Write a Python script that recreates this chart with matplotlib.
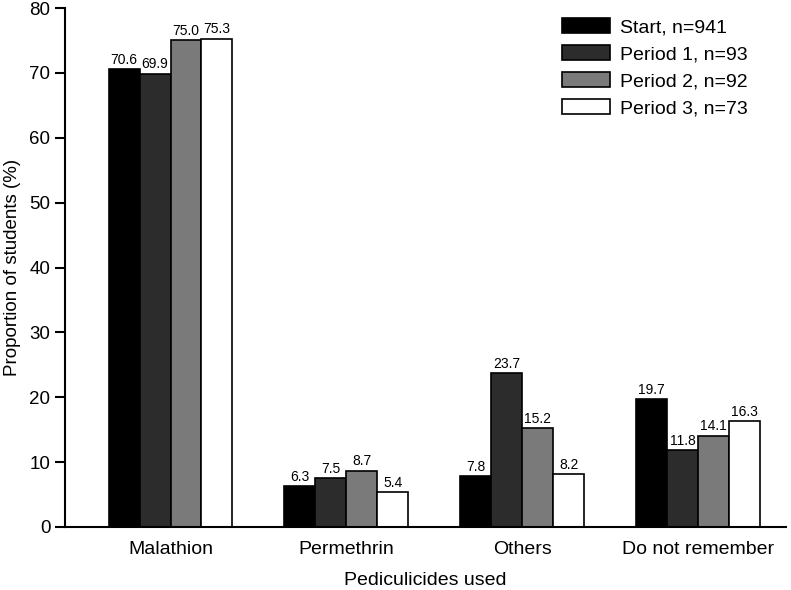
import matplotlib
matplotlib.use("Agg")
import matplotlib.pyplot as plt
import numpy as np

plt.rcParams['font.family'] = ['Liberation Sans', 'DejaVu Sans']

categories = ["Malathion", "Permethrin", "Others", "Do not remember"]
series_names = ["Start, n=941", "Period 1, n=93", "Period 2, n=92", "Period 3, n=73"]
start = [70.6, 6.3, 7.8, 19.7]
period1 = [69.9, 7.5, 23.7, 11.8]
period2 = [75.0, 8.7, 15.2, 14.1]
period3 = [75.3, 5.4, 8.2, 16.3]
series = [start, period1, period2, period3]
colors = ["#000000", "#2c2c2c", "#7a7a7a", "#ffffff"]
yticks = [0, 10, 20, 30, 40, 50, 60, 70, 80]

fig = plt.figure(figsize=(7.91, 5.90), dpi=100)
ax = fig.add_axes([0.0822, 0.1068, 0.9115, 0.8796])

x = np.arange(len(categories))
w = 0.176
for i, (vals, c, name) in enumerate(zip(series, colors, series_names)):
    pos = x + (i - 1.5) * w
    ax.bar(pos, vals, width=w, color=c, edgecolor="black", linewidth=1.2, label=name)
    for p, v in zip(pos, vals):
        ax.text(p, v + 0.35, f"{v:.1f}", ha="center", va="bottom", fontsize=10)

ax.set_xlim(-0.6, 3.5)
ax.set_ylim(0, 80)
ax.set_yticks(yticks)
ax.set_xticks(x)
ax.set_xticklabels(categories, fontsize=14)
ax.tick_params(axis="x", length=0, pad=10)
ax.tick_params(axis="y", labelsize=13.5, direction="out", length=7, width=1.5)
for s in ["top", "right"]:
    ax.spines[s].set_visible(False)
for s in ["left", "bottom"]:
    ax.spines[s].set_linewidth(1.5)
ax.set_ylabel("Proportion of students (%)", fontsize=13.5, labelpad=6)
ax.set_xlabel("Pediculicides used", fontsize=14, labelpad=10)

leg = fig.legend(loc="upper left", bbox_to_anchor=(562 / 791, 1 - 18 / 590),
                 frameon=False, fontsize=14, borderpad=0, borderaxespad=0,
                 handlelength=2.45, handleheight=0.8, labelspacing=0.45, handletextpad=0.55)

fig.savefig("out.png", dpi=100)
